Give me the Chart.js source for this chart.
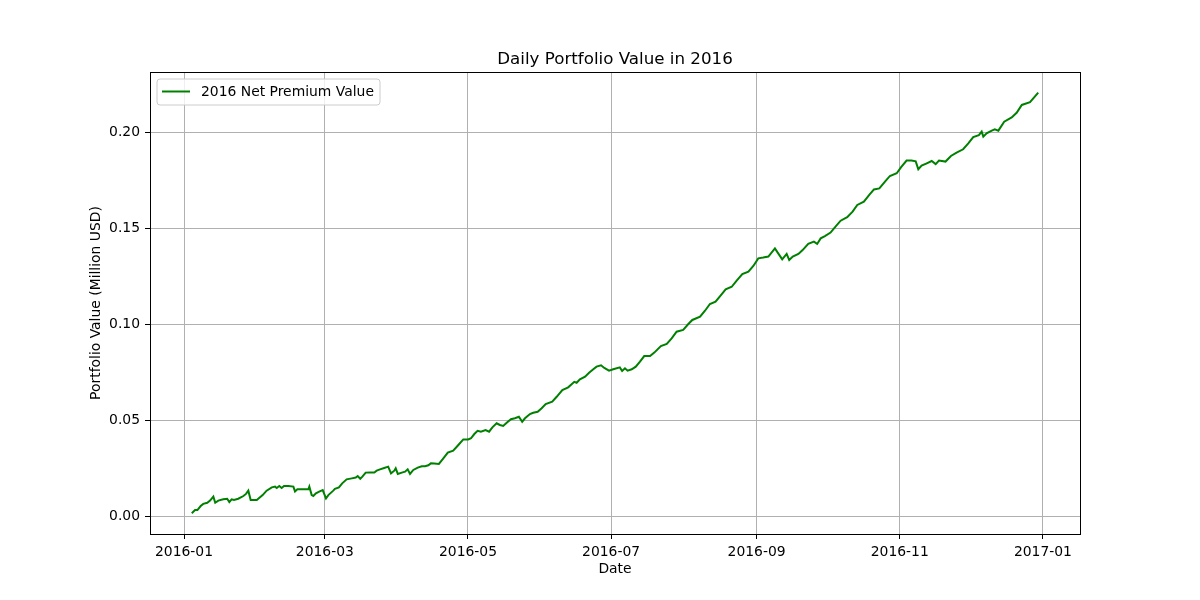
<!DOCTYPE html>
<html>
<head>
<meta charset="utf-8">
<script src="https://cdn.jsdelivr.net/npm/chart.js@4.4.1/dist/chart.umd.min.js"></script>
<style>
  html, body { margin: 0; padding: 0; background: #fff; }
  #wrap { width: 1200px; height: 600px; }
</style>
</head>
<body>
<div id="wrap"><canvas id="chart" width="1200" height="600"></canvas></div>
<script>
// Day offsets from 2016-01-01
const days = [
  3.3, 4.7, 5.7, 7.1, 8.2, 9.9, 11.1, 12.5, 13.3, 14.6, 16.7, 18.4, 19.3, 20.3, 21.3, 23.1, 25.3, 26.4, 27.4, 28.4, 31.0,
  33.5, 35.2, 37.4, 38.8, 39.5, 40.6, 41.6, 42.6, 44.4, 46.6, 47.3, 48.3, 53.0, 53.4, 54.4, 55.1, 56.2, 57.6, 59.1, 60.5, 61.5, 63.6,
  64.3, 66.0, 67.4, 69.3, 71.5, 73.2, 74.0, 75.1, 76.0, 77.4, 79.3, 81.1, 82.1, 83.5, 85.3, 87.0, 88.2, 89.6, 90.2, 91.1, 92.8,
  94.2, 95.3, 96.3, 97.7, 99.6, 101.3, 102.7, 104.1, 105.2, 106.6, 108.6, 110.5, 112.4, 114.7, 116.9, 119.0, 121.1,
  122.3, 123.7, 125.1, 126.5, 128.5, 130.0, 131.4, 133.2, 134.6, 136.0, 137.5, 139.3, 141.0, 142.7, 144.1, 145.3, 147.4, 148.8,
  150.7, 152.4, 154.1, 156.9, 158.8, 161.2, 163.7, 166.3, 167.3, 168.7, 170.9, 172.6, 174.4, 175.8, 177.7, 179.1, 181.1,
  182.9, 185.7, 186.7, 187.9, 189.0, 190.8, 192.5, 194.3, 196.1, 198.6, 200.4, 203.2, 205.7, 207.8, 209.9, 212.7, 214.9,
  216.6, 219.9, 222.0, 224.1, 226.5, 228.8, 230.8, 233.4, 235.5, 237.9, 240.5, 242.6,
  244.7, 246.8, 249.0, 251.8, 253.2, 254.9, 256.8, 257.9, 259.4, 261.8, 263.6, 266.0, 268.4, 269.8, 271.3, 273.1, 275.5,
  277.8, 279.8, 282.6, 284.9, 286.9, 289.7, 292.0, 294.0, 296.3, 298.7, 300.8, 303.7,
  305.5, 307.9, 310.0, 311.8, 312.9, 314.3, 316.5, 318.6, 320.3, 321.7, 324.5, 326.8, 329.2, 332.0, 334.2, 336.3, 338.7,
  339.9, 340.6, 342.0, 344.2, 345.5, 347.0, 349.5, 352.7, 354.8, 357.0, 360.5, 364.0
];
// Portfolio value, million USD
const values = [
  0.0014, 0.0031, 0.0031, 0.0052, 0.0063, 0.0069, 0.0080, 0.0101, 0.0069, 0.0080, 0.0087, 0.0090, 0.0073, 0.0087, 0.0083, 0.0090, 0.0104, 0.0115, 0.0132, 0.0083, 0.0083,
  0.0109, 0.0132, 0.0149, 0.0153, 0.0146, 0.0156, 0.0146, 0.0156, 0.0156, 0.0153, 0.0128, 0.0139, 0.0139, 0.0153, 0.0109, 0.0104, 0.0118, 0.0127, 0.0135, 0.0092, 0.0109, 0.0132,
  0.0141, 0.0149, 0.0170, 0.0191, 0.0196, 0.0200, 0.0208, 0.0194, 0.0205, 0.0226, 0.0227, 0.0226, 0.0236, 0.0243, 0.0250, 0.0257, 0.0222, 0.0236, 0.0248, 0.0219, 0.0226,
  0.0231, 0.0243, 0.0219, 0.0240, 0.0252, 0.0259, 0.0259, 0.0264, 0.0274, 0.0273, 0.0271, 0.0300, 0.0330, 0.0340, 0.0370, 0.0399, 0.0399,
  0.0405, 0.0427, 0.0444, 0.0439, 0.0448, 0.0439, 0.0462, 0.0483, 0.0474, 0.0469, 0.0486, 0.0504, 0.0509, 0.0517, 0.0491, 0.0509, 0.0531, 0.0538,
  0.0543, 0.0561, 0.0583, 0.0595, 0.0621, 0.0656, 0.0670, 0.0699, 0.0694, 0.0712, 0.0726, 0.0746, 0.0764, 0.0778, 0.0785, 0.0771, 0.0757,
  0.0764, 0.0774, 0.0755, 0.0769, 0.0757, 0.0764, 0.0778, 0.0804, 0.0833, 0.0833, 0.0851, 0.0885, 0.0896, 0.0925, 0.0960, 0.0969, 0.1000,
  0.1021, 0.1038, 0.1069, 0.1104, 0.1116, 0.1151, 0.1181, 0.1194, 0.1226, 0.1260, 0.1273, 0.1302,
  0.1342, 0.1346, 0.1351, 0.1394, 0.1368, 0.1337, 0.1365, 0.1333, 0.1351, 0.1365, 0.1385, 0.1417, 0.1429, 0.1417, 0.1446, 0.1458, 0.1476,
  0.1510, 0.1538, 0.1556, 0.1585, 0.1620, 0.1637, 0.1672, 0.1701, 0.1706, 0.1741, 0.1771, 0.1785,
  0.1816, 0.1851, 0.1851, 0.1847, 0.1806, 0.1825, 0.1837, 0.1849, 0.1833, 0.1851, 0.1846, 0.1875, 0.1892, 0.1910, 0.1941, 0.1973, 0.1984,
  0.2002, 0.1976, 0.1993, 0.2007, 0.2014, 0.2007, 0.2054, 0.2076, 0.2100, 0.2141, 0.2155, 0.2205
];

const xTickDays = [0, 60, 121, 182, 244, 305, 366];
const xTickLabels = ["2016-01", "2016-03", "2016-05", "2016-07", "2016-09", "2016-11", "2017-01"];
const yTickValues = [0, 0.05, 0.10, 0.15, 0.20];

const seriesLabel = "2016 Net Premium Value";
const FONT = "'DejaVu Sans', sans-serif";

// title, axis labels, legend and the axes frame, matplotlib style
const decor = {
  id: "decor",
  afterDraw(chart) {
    const { ctx, chartArea: a } = chart;
    ctx.save();
    ctx.strokeStyle = "#000";
    ctx.lineWidth = 1;
    ctx.strokeRect(a.left + 0.5, a.top + 0.5, a.right - a.left, a.bottom - a.top);

    ctx.fillStyle = "#000";
    ctx.textAlign = "center";
    ctx.textBaseline = "alphabetic";
    ctx.font = `16.7px ${FONT}`;
    ctx.fillText("Daily Portfolio Value in 2016", (a.left + a.right) / 2, 64);

    ctx.font = `13.9px ${FONT}`;
    ctx.textBaseline = "middle";
    ctx.fillText("Date", (a.left + a.right) / 2, 569);
    ctx.translate(96, (a.top + a.bottom) / 2);
    ctx.rotate(-Math.PI / 2);
    ctx.fillText("Portfolio Value (Million USD)", 0, 0);
    ctx.restore();

    // legend box
    ctx.save();
    const bx = 157, by = 79, bw = 223, bh = 26, r = 3;
    ctx.beginPath();
    ctx.moveTo(bx + r, by);
    ctx.arcTo(bx + bw, by, bx + bw, by + bh, r);
    ctx.arcTo(bx + bw, by + bh, bx, by + bh, r);
    ctx.arcTo(bx, by + bh, bx, by, r);
    ctx.arcTo(bx, by, bx + bw, by, r);
    ctx.closePath();
    ctx.fillStyle = "rgba(255,255,255,0.8)";
    ctx.fill();
    ctx.strokeStyle = "#cccccc";
    ctx.lineWidth = 1;
    ctx.stroke();
    ctx.strokeStyle = "green";
    ctx.lineWidth = 2;
    ctx.beginPath();
    ctx.moveTo(162, 91.5);
    ctx.lineTo(190, 91.5);
    ctx.stroke();
    ctx.fillStyle = "#000";
    ctx.font = `13.9px ${FONT}`;
    ctx.textAlign = "left";
    ctx.textBaseline = "middle";
    ctx.fillText(seriesLabel, 201, 92);
    ctx.restore();
  }
};

new Chart(document.getElementById("chart"), {
  type: "line",
  data: {
    datasets: [{
      label: seriesLabel,
      data: days.map((d, i) => ({ x: d, y: values[i] })),
      borderColor: "green",
      borderWidth: 2,
      pointRadius: 0,
      tension: 0,
      fill: false
    }]
  },
  options: {
    responsive: false,
    animation: false,
    devicePixelRatio: 1,
    layout: { padding: { top: 72, right: 120, left: 0, bottom: 0 } },
    plugins: { legend: { display: false }, title: { display: false }, tooltip: { enabled: false } },
    scales: {
      x: {
        type: "linear",
        min: -14.5,
        max: 381.8,
        afterFit: s => { s.height = 66; },
        afterBuildTicks: s => { s.ticks = xTickDays.map(v => ({ value: v })); },
        grid: { color: "#b0b0b0", lineWidth: 1, tickColor: "#000", tickLength: 5 },
        border: { display: false },
        ticks: {
          autoSkip: false, maxRotation: 0, padding: 5,
          color: "#000", font: { family: FONT, size: 13.9 },
          callback: (v, i) => xTickLabels[i]
        }
      },
      y: {
        type: "linear",
        min: -0.009375,
        max: 0.23125,
        afterFit: s => { s.width = 150; },
        afterBuildTicks: s => { s.ticks = yTickValues.map(v => ({ value: v })); },
        grid: { color: "#b0b0b0", lineWidth: 1, tickColor: "#000", tickLength: 5 },
        border: { display: false },
        ticks: {
          padding: 5, color: "#000", font: { family: FONT, size: 13.9 },
          callback: v => Number(v).toFixed(2)
        }
      }
    }
  },
  plugins: [decor]
});
</script>
</body>
</html>
